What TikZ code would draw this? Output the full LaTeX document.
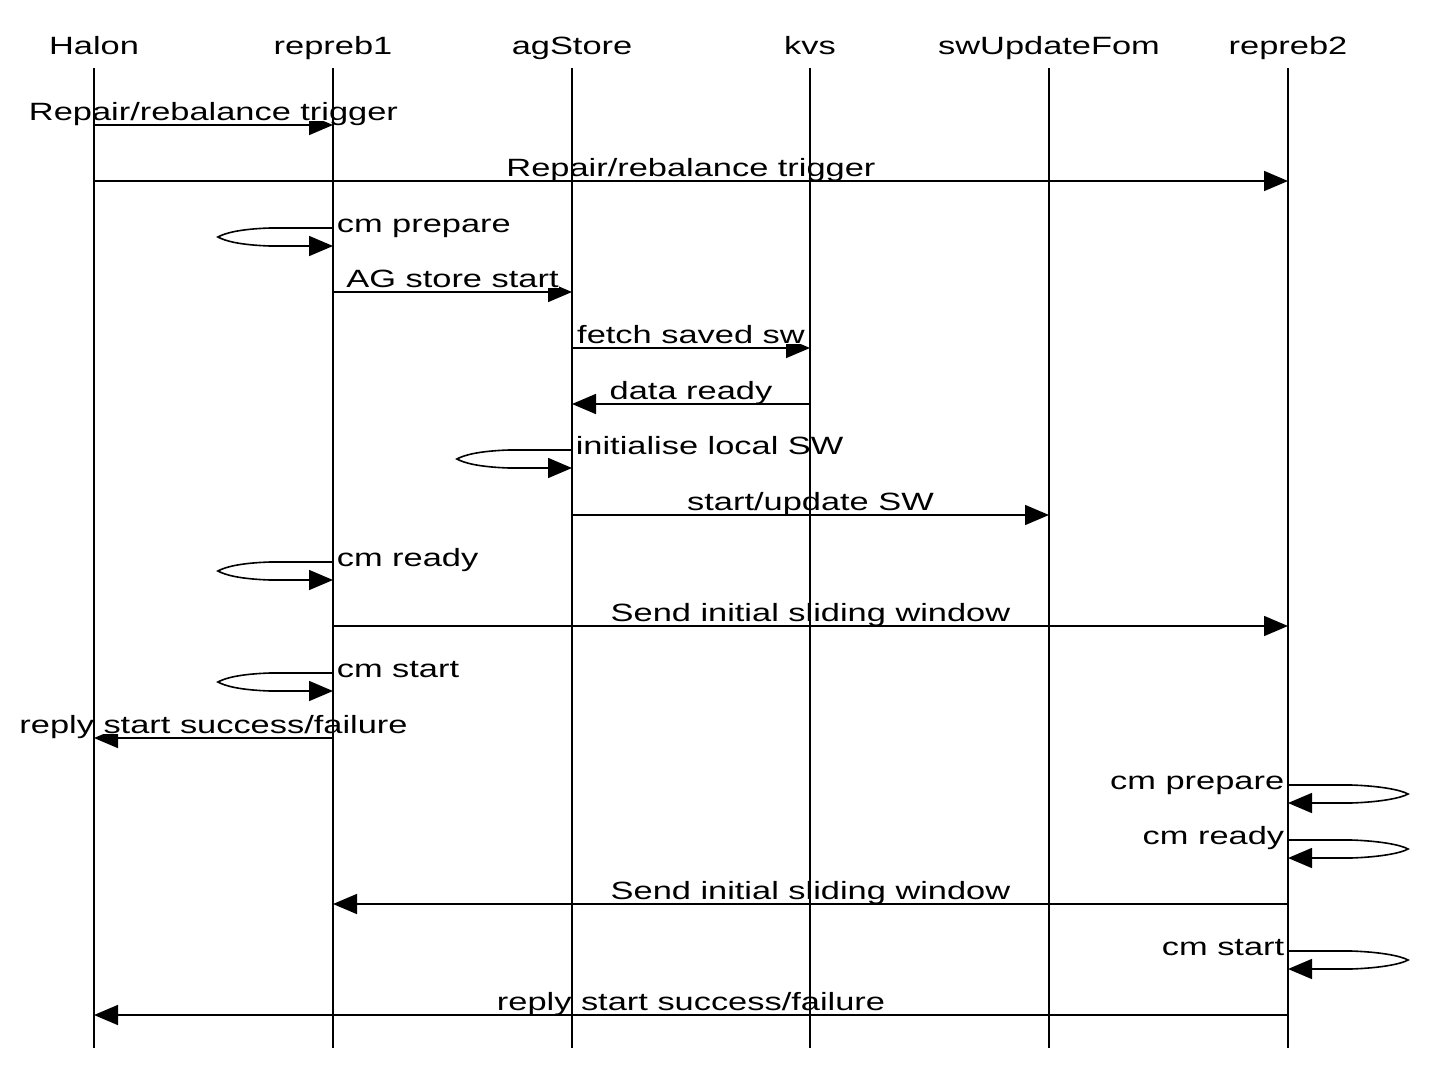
\documentclass[tikz,border=0pt]{standalone}
\usepackage{fontspec}
\setmainfont{Liberation Sans}[FakeStretch=1.376]
\usetikzlibrary{arrows.meta}

\begin{document}
\begin{tikzpicture}[x=1pt,y=-1pt,
  every node/.style={font=\fontsize{25}{30}\selectfont},
  head/.style={anchor=base},
  lifeline/.style={line width=1.6pt},
  msg/.style={line width=1.6pt,-{Triangle[length=24pt,width=20pt]}},
  lbl/.style={fill=white,inner sep=0pt,text depth=0pt,anchor=base,yshift=4.5pt},
  slbl/.style={inner sep=0pt,yshift=-4pt}]
\useasboundingbox (0,0) rectangle (1446,1068);

% headers
\node[head] (halon) at (94,54) {Halon};
\node[head] (repreb1) at (333,54) {repreb1};
\node[head] (agstore) at (572,54) {agStore};
\node[head] (kvs) at (810,54) {kvs};
\node[head] (swupd) at (1049,54) {swUpdateFom};
\node[head] (repreb2) at (1288,54) {repreb2};

% messages
\draw[msg] (halon |- 0,125) -- node[lbl] (m1) {Repair/rebalance trigger} (repreb1 |- 0,125);
\draw[msg] (halon |- 0,181) -- node[lbl] (m2) {Repair/rebalance trigger} (repreb2 |- 0,181);
\draw[msg] (repreb1 |- 0,228) node[slbl,anchor=base west,xshift=3pt] (m3) {cm prepare}
  -- (270,228) .. controls (240,229) and (225,233) .. (218,237)
  .. controls (225,241) and (240,245) .. (270,246) -- (repreb1 |- 0,246);
\draw[msg] (repreb1 |- 0,292) -- node[lbl] (m4) {AG store start} (agstore |- 0,292);
\draw[msg] (agstore |- 0,348) -- node[lbl] (m5) {fetch saved sw} (kvs |- 0,348);
\draw[msg] (kvs |- 0,404) -- node[lbl] (m6) {data ready} (agstore |- 0,404);
\draw[msg] (agstore |- 0,450) node[slbl,anchor=base west,xshift=3pt] (m7) {initialise local SW}
  -- (509,450) .. controls (479,451) and (464,455) .. (457,459)
  .. controls (464,463) and (479,467) .. (509,468) -- (agstore |- 0,468);
\draw[msg] (agstore |- 0,515) -- node[lbl] (m8) {start/update SW} (swupd |- 0,515);
\draw[msg] (repreb1 |- 0,562) node[slbl,anchor=base west,xshift=3pt] (m9) {cm ready}
  -- (270,562) .. controls (240,563) and (225,567) .. (218,571)
  .. controls (225,575) and (240,579) .. (270,580) -- (repreb1 |- 0,580);
\draw[msg] (repreb1 |- 0,626) -- node[lbl] (m10) {Send initial sliding window} (repreb2 |- 0,626);
\draw[msg] (repreb1 |- 0,673) node[slbl,anchor=base west,xshift=3pt] (m11) {cm start}
  -- (270,673) .. controls (240,674) and (225,678) .. (218,682)
  .. controls (225,686) and (240,690) .. (270,691) -- (repreb1 |- 0,691);
\draw[msg] (repreb1 |- 0,738) -- node[lbl] (m12) {reply start success/failure} (halon |- 0,738);
\draw[msg] (repreb2 |- 0,785) node[slbl,anchor=base east,xshift=-3pt] (m13) {cm prepare}
  -- (1351,785) .. controls (1381,786) and (1401,790) .. (1408,794)
  .. controls (1401,798) and (1381,802) .. (1351,803) -- (repreb2 |- 0,803);
\draw[msg] (repreb2 |- 0,840) node[slbl,anchor=base east,xshift=-3pt] (m14) {cm ready}
  -- (1351,840) .. controls (1381,841) and (1401,845) .. (1408,849)
  .. controls (1401,853) and (1381,857) .. (1351,858) -- (repreb2 |- 0,858);
\draw[msg] (repreb2 |- 0,904) -- node[lbl] (m15) {Send initial sliding window} (repreb1 |- 0,904);
\draw[msg] (repreb2 |- 0,951) node[slbl,anchor=base east,xshift=-3pt] (m16) {cm start}
  -- (1351,951) .. controls (1381,952) and (1401,956) .. (1408,960)
  .. controls (1401,964) and (1381,968) .. (1351,969) -- (repreb2 |- 0,969);
\draw[msg] (repreb2 |- 0,1015) -- node[lbl] (m17) {reply start success/failure} (halon |- 0,1015);

% lifelines
\foreach \n in {halon,repreb1,agstore,kvs,swupd,repreb2}
  \draw[lifeline] (\n |- 0,68) -- (\n |- 0,1048);

\end{tikzpicture}
\end{document}
